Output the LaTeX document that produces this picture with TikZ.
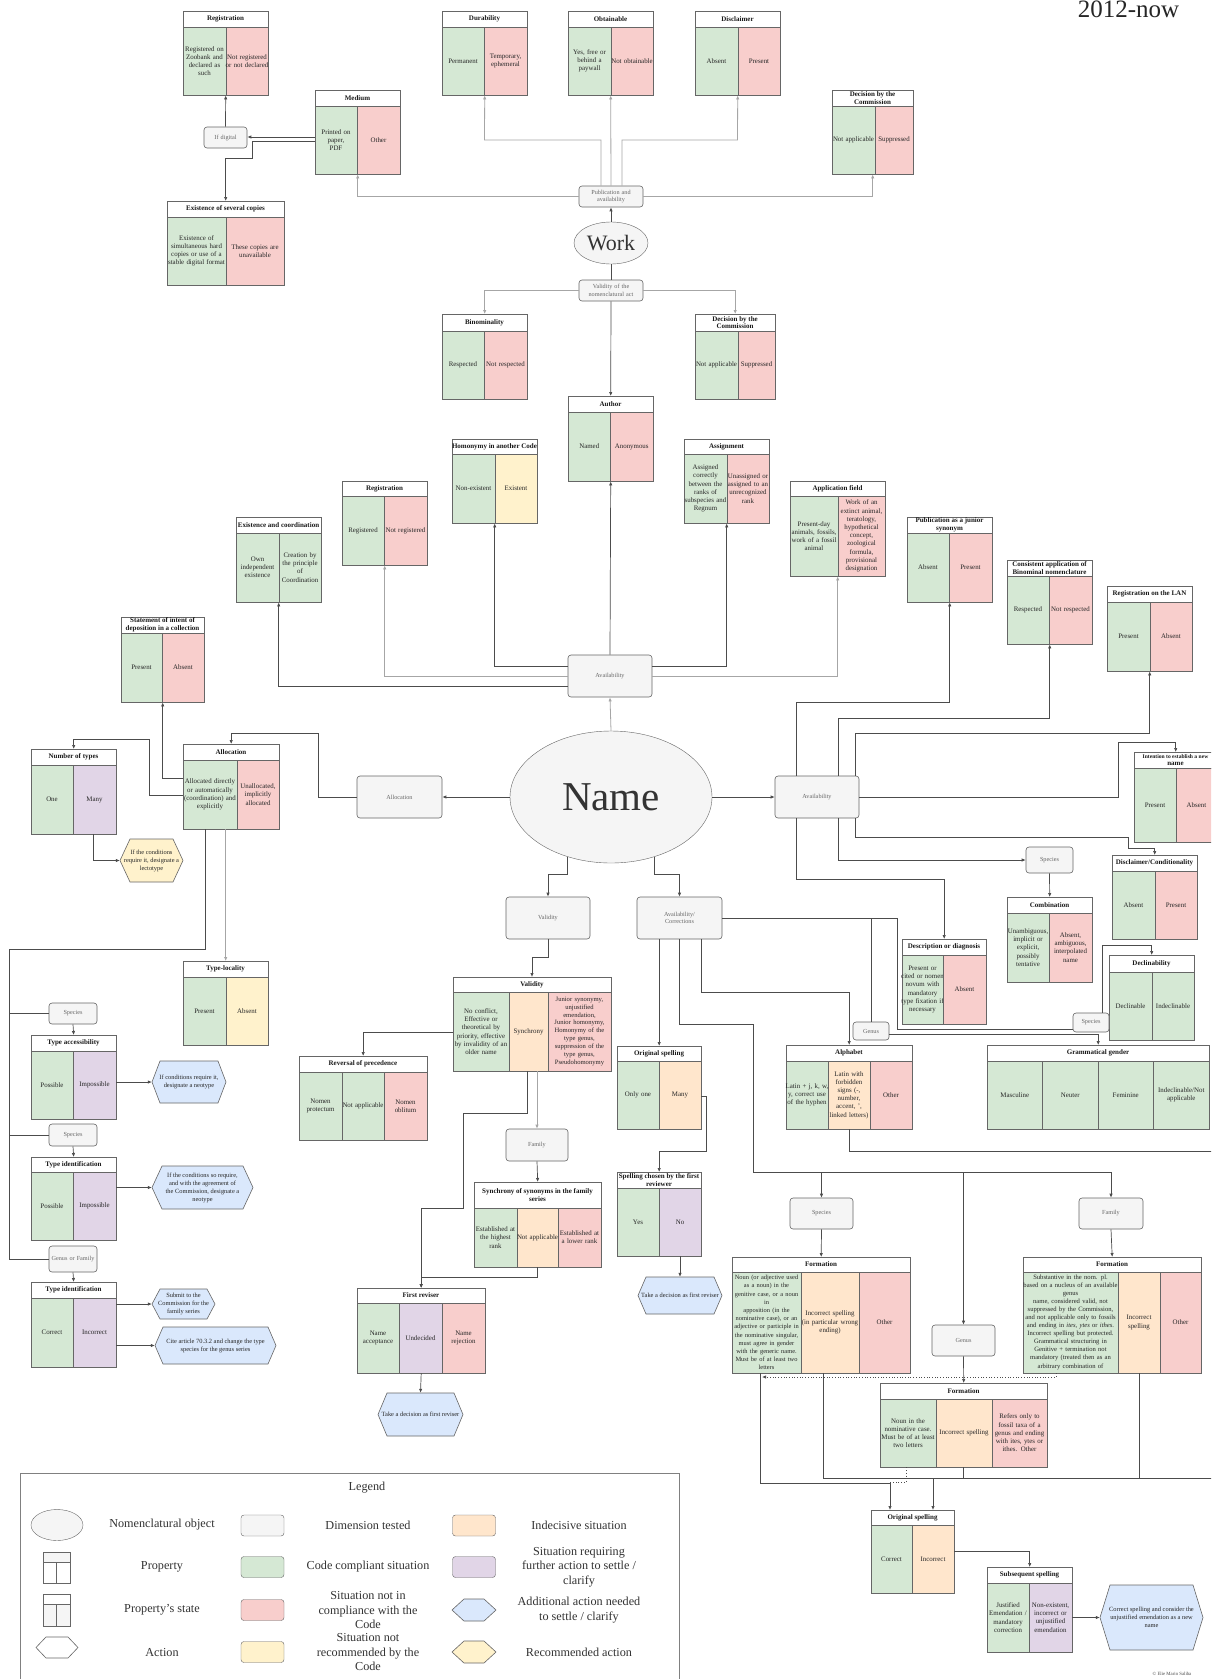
\documentclass[tikz,border=0pt]{standalone}
\usepackage{fontspec}
\setmainfont{Liberation Serif}
\usetikzlibrary{arrows.meta,shapes.geometric,calc}
\definecolor{cg}{HTML}{D5E8D4}
\definecolor{cr}{HTML}{F8CECC}
\definecolor{co}{HTML}{FFE6CC}
\definecolor{cp}{HTML}{E1D5E7}
\definecolor{cy}{HTML}{FFF2CC}
\definecolor{cb}{HTML}{DAE8FC}
\definecolor{cgr}{HTML}{F5F5F5}
\definecolor{bordc}{HTML}{666666}
\tikzset{
  hdr/.style={inner sep=0pt, align=center, font=\bfseries\fontsize{7}{7.8}\selectfont, text=black!90},
  celltx/.style={inner sep=0pt, align=center, font=\fontsize{6.9}{8.2}\selectfont, text=black!85},
  dimbox/.style={draw=bordc, fill=cgr, rounded corners=3pt, inner sep=0pt, align=center, font=\fontsize{6.2}{7.4}\selectfont, text=black!60, line width=0.6pt},
  hextx/.style={inner sep=0pt, align=center, font=\fontsize{6.4}{8}\selectfont, text=black!85},
  legtx/.style={inner sep=0pt, align=center, font=\fontsize{12.2}{14.5}\selectfont, text=black!80},
  legrect/.style={draw=black!60, rounded corners=3pt, minimum width=43pt, minimum height=21pt, inner sep=0pt},
  conn/.style={draw=black!70, line width=0.7pt},
  connl/.style={draw=black!35, line width=0.8pt},
  arr/.style={conn, -{Latex[length=4pt,width=3.4pt]}},
  arrl/.style={connl, -{Latex[length=4pt,width=3.4pt]}},
  arrd/.style={conn, dotted, -{Latex[length=4pt,width=3.4pt]}},
}
% table: name x1 y1 x2 yheader y2 title
\newcommand\ptab[7]{%
  \pgfmathsetmacro\ptW{#4-#2}\pgfmathsetmacro\ptH{#6-#3}%
  \filldraw[fill=white,draw=bordc,line width=0.6pt] (#2,#3) rectangle (#4,#5);
  \node[hdr] (#1-h) at ({(#2+#4)/2},{(#3+#5)/2}) {#7};
  \node[inner sep=0pt,minimum width=\ptW pt,minimum height=\ptH pt,anchor=north west] (#1) at (#2,#3) {};
}
% cell: name x1 x2 ytop y2 colour text
\newcommand\pcell[7]{%
  \filldraw[fill=#6,draw=bordc,line width=0.5pt] (#2,#4) rectangle (#3,#5);
  \pgfmathsetmacro\pcW{#3-#2+8}%
  \node[celltx,text width=\pcW pt] (#1) at ({(#2+#3)/2},{(#4+#5)/2}) {#7};
}
% dimension box: name x1 y1 x2 y2 text
\newcommand\dbox[6]{%
  \pgfmathsetmacro\dbW{#4-#2}\pgfmathsetmacro\dbH{#5-#3}\pgfmathsetmacro\dbT{#4-#2-2}%
  \node[dimbox,minimum width=\dbW pt,minimum height=\dbH pt,text width=\dbT pt] (#1) at ({(#2+#4)/2},{(#3+#5)/2}) {#6};
}
% hexagon: name x1 y1 x2 y2 fill text chamfer
\newcommand\hexa[8]{%
  \pgfmathsetmacro\hxW{#4-#2}\pgfmathsetmacro\hxH{#5-#3}%
  \pgfmathsetmacro\hxym{(#3+#5)/2}\pgfmathsetmacro\hxxm{(#2+#4)/2}%
  \filldraw[fill=#6,draw=bordc,line width=0.6pt] (#2,\hxym) -- ({#2+#8},#3) -- ({#4-#8},#3) -- (#4,\hxym) -- ({#4-#8},#5) -- ({#2+#8},#5) -- cycle;
  \node[inner sep=0pt,minimum width=\hxW pt,minimum height=\hxH pt] (#1) at (\hxxm,\hxym) {};
  \node[hextx] (#1-t) at (\hxxm,\hxym) {#7};
}
\begin{document}
\begin{tikzpicture}[x=1pt,y=-1pt]
\useasboundingbox (0,0) rectangle (1211,1679);
\fill[white] (0,0) rectangle (1211,1679);
\clip (0,0) rectangle (1211,1679);

\node[font=\fontsize{25}{28}\selectfont, anchor=base, inner sep=0pt, text=black!85] (era) at (1128.5,17.5) {2012-now};

% ---------------- Work part ----------------
\ptab{regT}{183}{11}{268}{27}{95}{Registration}
\pcell{regT-a}{183}{226}{27}{95}{cg}{Registered on\\Zoobank and\\declared as\\such}
\pcell{regT-b}{226}{268}{27}{95}{cr}{Not registered\\or not declared}

\ptab{durab}{442}{11}{527}{27}{95}{Durability}
\pcell{durab-a}{442}{484}{27}{95}{cg}{Permanent}
\pcell{durab-b}{484}{527}{27}{95}{cr}{Temporary,\\ephemeral}

\ptab{obtain}{568}{11}{653}{27}{95}{Obtainable}
\pcell{obtain-a}{568}{611}{27}{95}{cg}{Yes, free or\\behind a\\paywall}
\pcell{obtain-b}{611}{653}{27}{95}{cr}{Not obtainable}

\ptab{discl}{695}{11}{780}{27}{95}{Disclaimer}
\pcell{discl-a}{695}{738}{27}{95}{cg}{Absent}
\pcell{discl-b}{738}{780}{27}{95}{cr}{Present}

\ptab{medium}{315}{90}{400}{106}{174}{Medium}
\pcell{medium-a}{315}{357}{106}{174}{cg}{Printed on\\paper,\\PDF}
\pcell{medium-b}{357}{400}{106}{174}{cr}{Other}

\ptab{decT}{832}{90}{913}{106}{174}{Decision by the\\Commission}
\pcell{decT-a}{832}{875}{106}{174}{cg}{Not applicable}
\pcell{decT-b}{875}{913}{106}{174}{cr}{Suppressed}

\ptab{exist}{167}{201}{284}{217}{285}{Existence of several copies}
\pcell{exist-a}{167}{226}{217}{285}{cg}{Existence of\\simultaneous hard\\copies or use of a\\stable digital format}
\pcell{exist-b}{226}{284}{217}{285}{cr}{These copies are\\unavailable}

\dbox{ifdig}{204}{127}{247}{148}{If digital}
\dbox{pub}{579}{186}{643}{207}{Publication and\\availability}
\node[ellipse, draw=bordc, fill=cgr, minimum width=74pt, minimum height=42pt, inner sep=0pt, font=\fontsize{22}{24}\selectfont, text=black!80] (work) at (611,243) {Work};
\dbox{valact}{579}{280}{643}{301}{Validity of the\\nomenclatural act}

\ptab{binom}{442}{314}{527}{331}{399}{Binominality}
\pcell{binom-a}{442}{484}{331}{399}{cg}{Respected}
\pcell{binom-b}{484}{527}{331}{399}{cr}{Not respected}

\ptab{decM}{695}{314}{775}{331}{399}{Decision by the\\Commission}
\pcell{decM-a}{695}{738}{331}{399}{cg}{Not applicable}
\pcell{decM-b}{738}{775}{331}{399}{cr}{Suppressed}

\ptab{author}{568}{396}{653}{412}{481}{Author}
\pcell{author-a}{568}{610.5}{412}{481}{cg}{Named}
\pcell{author-b}{610.5}{653}{412}{481}{cr}{Anonymous}

% ---------------- Name availability (top) ----------------
\ptab{homon}{452}{439}{537}{454}{523}{Homonymy in another Code}
\pcell{homon-a}{452}{495}{454}{523}{cg}{Non-existent}
\pcell{homon-b}{495}{537}{454}{523}{cy}{Existent}

\ptab{assign}{684}{439}{769}{454}{523}{Assignment}
\pcell{assign-a}{684}{727}{454}{523}{cg}{Assigned\\correctly\\between the\\ranks of\\subspecies and\\Regnum}
\pcell{assign-b}{727}{769}{454}{523}{cr}{Unassigned or\\assigned to an\\unrecognized\\rank}

\ptab{regM}{342}{481}{427}{496}{565}{Registration}
\pcell{regM-a}{342}{384}{496}{565}{cg}{Registered}
\pcell{regM-b}{384}{427}{496}{565}{cr}{Not registered}

\ptab{appl}{790}{481}{885}{496}{576}{Application field}
\pcell{appl-a}{790}{838}{496}{576}{cg}{Present-day\\animals, fossils,\\work of a fossil\\animal}
\pcell{appl-b}{838}{885}{496}{576}{cr}{Work of an\\extinct animal,\\teratology,\\hypothetical\\concept,\\zoological\\formula,\\provisional\\designation}

\ptab{excoord}{236}{517}{321}{533}{602}{Existence and coordination}
\pcell{excoord-a}{236}{279}{533}{602}{cg}{Own\\independent\\existence}
\pcell{excoord-b}{279}{321}{533}{602}{cg}{Creation by\\the principle\\of\\Coordination}

\ptab{pubjun}{907}{517}{992}{533}{602}{Publication as a junior\\synonym}
\pcell{pubjun-a}{907}{949}{533}{602}{cg}{Absent}
\pcell{pubjun-b}{949}{992}{533}{602}{cr}{Present}

\ptab{consist}{1007}{560}{1092}{576}{644}{Consistent application of\\Binominal nomenclature}
\pcell{consist-a}{1007}{1049}{576}{644}{cg}{Respected}
\pcell{consist-b}{1049}{1092}{576}{644}{cr}{Not respected}

\ptab{lan}{1107}{586}{1192}{602}{671}{Registration on the LAN}
\pcell{lan-a}{1107}{1150}{602}{671}{cg}{Present}
\pcell{lan-b}{1150}{1192}{602}{671}{cr}{Absent}

\ptab{statement}{121}{617}{204}{633}{702}{Statement of intent of\\deposition in a collection}
\pcell{statement-a}{121}{162}{633}{702}{cg}{Present}
\pcell{statement-b}{162}{204}{633}{702}{cr}{Absent}

\dbox{availT}{568}{655}{652}{697}{Availability}

% ---------------- Name row ----------------
\ptab{numtypes}{31}{749}{116}{765}{834}{Number of types}
\pcell{numtypes-a}{31}{73}{765}{834}{cg}{One}
\pcell{numtypes-b}{73}{116}{765}{834}{cp}{Many}

\ptab{allocT}{183}{744}{279}{760}{829}{Allocation}
\pcell{allocT-a}{183}{237}{760}{829}{cg}{Allocated directly\\or automatically\\(coordination) and\\explicitly}
\pcell{allocT-b}{237}{279}{760}{829}{cr}{Unallocated,\\implicitly\\allocated}

\dbox{allocB}{357}{776}{442}{818}{Allocation}
\node[ellipse, draw=bordc, fill=cgr, minimum width=202pt, minimum height=132pt, inner sep=0pt, font=\fontsize{41}{44}\selectfont, text=black!80] (name) at (611,797) {Name};
\dbox{availR}{775}{776}{859}{818}{Availability}

\ptab{intent}{1134}{752}{1217}{768}{842}{\fontsize{5.6}{6.8}\selectfont Intention to establish a new\\name}
\pcell{intent-a}{1134}{1176}{768}{842}{cg}{Present}
\pcell{intent-b}{1176}{1217}{768}{842}{cr}{Absent}

\hexa{lecto}{120}{839}{183}{882}{cy}{If the conditions\\require it, designate a\\lectotype}{10}

\ptab{disclC}{1112}{855}{1197}{871}{939}{Disclaimer/Conditionality}
\pcell{disclC-a}{1112}{1155}{871}{939}{cg}{Absent}
\pcell{disclC-b}{1155}{1197}{871}{939}{cr}{Present}

\dbox{speciesT}{1026}{847}{1073}{873}{Species}

\ptab{combin}{1007}{897}{1092}{913}{982}{Combination}
\pcell{combin-a}{1007}{1049}{913}{982}{cg}{Unambiguous,\\implicit or\\explicit,\\possibly\\tentative}
\pcell{combin-b}{1049}{1092}{913}{982}{cr}{Absent,\\ambiguous,\\interpolated\\name}

\dbox{validB}{506}{897}{590}{939}{Validity}
\dbox{availC}{637}{897}{722}{939}{Availability/\\Corrections}

\ptab{descr}{902}{939}{986}{955}{1024}{Description or diagnosis}
\pcell{descr-a}{902}{943}{955}{1024}{cg}{Present or\\cited or nomen\\novum with\\mandatory\\type fixation if\\necessary}
\pcell{descr-b}{943}{986}{955}{1024}{cr}{Absent}

\ptab{typeloc}{183}{961}{268}{977}{1045}{Type-locality}
\pcell{typeloc-a}{183}{226}{977}{1045}{cg}{Present}
\pcell{typeloc-b}{226}{268}{977}{1045}{cy}{Absent}

\ptab{validT}{453}{977}{611}{992}{1071}{Validity}
\pcell{validT-a}{453}{509}{992}{1071}{cg}{No conflict,\\Effective or\\theoretical by\\priority, effective\\by invalidity of an\\older name}
\pcell{validT-b}{509}{548}{992}{1071}{co}{Synchrony}
\pcell{validT-c}{548}{611}{992}{1071}{cr}{\fontsize{6.6}{7.9}\selectfont Junior synonymy,\\unjustified\\emendation,\\Junior homonymy,\\Homonymy of the\\type genus,\\suppression of the\\type genus,\\Pseudohomonymy}

\ptab{declin}{1109}{955}{1194}{972}{1040}{Declinability}
\pcell{declin-a}{1109}{1152}{972}{1040}{cg}{Declinable}
\pcell{declin-b}{1152}{1194}{972}{1040}{cg}{Indeclinable}

\dbox{speciesA}{49}{1003}{97}{1024}{Species}
\ptab{typeacc}{31}{1035}{116}{1051}{1119}{Type accessibility}
\pcell{typeacc-a}{31}{73}{1051}{1119}{cg}{Possible}
\pcell{typeacc-b}{73}{116}{1051}{1119}{cp}{Impossible}
\hexa{neo1}{152}{1061}{226}{1103}{cb}{If conditions require it,\\designate a neotype}{8}

\dbox{genusS}{853}{1022}{889}{1040}{Genus}
\dbox{species2}{1073}{1013}{1109}{1032}{Species}

\ptab{origM}{617}{1046}{701}{1061}{1129}{Original spelling}
\pcell{origM-a}{617}{659}{1061}{1129}{cg}{Only one}
\pcell{origM-b}{659}{701}{1061}{1129}{co}{Many}

\ptab{alphab}{786}{1045}{912}{1061}{1129}{Alphabet}
\pcell{alphab-a}{786}{828}{1061}{1129}{cg}{Latin + j, k, w,\\y, correct use\\of the hyphen}
\pcell{alphab-b}{828}{870}{1061}{1129}{co}{Latin with\\forbidden\\signs (-,\\number,\\accent, ',\\linked letters)}
\pcell{alphab-c}{870}{912}{1061}{1129}{cr}{Other}

\ptab{gender}{987}{1045}{1209}{1061}{1129}{Grammatical gender}
\pcell{gender-a}{987}{1042.5}{1061}{1129}{cg}{Masculine}
\pcell{gender-b}{1042.5}{1098}{1061}{1129}{cg}{Neuter}
\pcell{gender-c}{1098}{1153.5}{1061}{1129}{cg}{Feminine}
\pcell{gender-d}{1153.5}{1209}{1061}{1129}{cg}{Indeclinable/Not\\applicable}

\ptab{reversal}{299}{1056}{427}{1072}{1140}{Reversal of precedence}
\pcell{reversal-a}{299}{342}{1072}{1140}{cg}{Nomen\\protectum}
\pcell{reversal-b}{342}{384}{1072}{1140}{cg}{Not applicable}
\pcell{reversal-c}{384}{427}{1072}{1140}{cr}{Nomen\\oblitum}

\dbox{speciesB}{49}{1124}{97}{1146}{Species}
\ptab{typeid1}{31}{1157}{116}{1172}{1240}{Type identification}
\pcell{typeid1-a}{31}{73}{1172}{1240}{cg}{Possible}
\pcell{typeid1-b}{73}{116}{1172}{1240}{cp}{Impossible}
\hexa{neo2}{152}{1166}{253}{1209}{cb}{If the conditions so require,\\and with the agreement of\\the Commission, designate a\\neotype}{10}

\dbox{familyB}{506}{1129}{568}{1161}{Family}
\ptab{synchr}{474}{1182}{601}{1208}{1267}{Synchrony of synonyms in the family\\series}
\pcell{synchr-a}{474}{517}{1208}{1267}{cg}{Established at\\the highest\\rank}
\pcell{synchr-b}{517}{558}{1208}{1267}{co}{Not applicable}
\pcell{synchr-c}{558}{601}{1208}{1267}{cr}{Established at\\a lower rank}

\ptab{spellch}{617}{1172}{701}{1188}{1256}{Spelling chosen by the first\\reviewer}
\pcell{spellch-a}{617}{659}{1188}{1256}{cg}{Yes}
\pcell{spellch-b}{659}{701}{1188}{1256}{cp}{No}

\dbox{species3}{790}{1198}{853}{1229}{Species}
\dbox{family3}{1079}{1198}{1143}{1229}{Family}
\dbox{genusorfam}{49}{1246}{97}{1272}{Genus or Family}

\ptab{typeid2}{31}{1282}{116}{1298}{1367}{Type identification}
\pcell{typeid2-a}{31}{73}{1298}{1367}{cg}{Correct}
\pcell{typeid2-b}{73}{116}{1298}{1367}{cp}{Incorrect}
\hexa{submit}{152}{1289}{215}{1319}{cb}{Submit to the\\Commission for the\\family series}{8}
\hexa{cite}{155}{1327}{276}{1364}{cb}{Cite article 70.3.2 and change the type\\species for the genus series}{8}

\ptab{firstrev}{357}{1288}{485}{1303}{1373}{First reviser}
\pcell{firstrev-a}{357}{399}{1303}{1373}{cg}{Name\\acceptance}
\pcell{firstrev-b}{399}{442}{1303}{1373}{cp}{Undecided}
\pcell{firstrev-c}{442}{485}{1303}{1373}{cr}{Name\\rejection}
\hexa{dec1}{378}{1393}{463}{1436}{cb}{Take a decision as first reviser}{9}
\hexa{dec2}{638}{1277}{722}{1314}{cb}{Take a decision as first reviser}{8}

\ptab{formS}{732}{1257}{910}{1272}{1373}{Formation}
\pcell{formS-a}{732}{801}{1272}{1373}{cg}{\fontsize{6.4}{8.2}\selectfont Noun (or adjective used\\as a noun) in the\\genitive case, or a noun\\in\\apposition (in the\\nominative case), or an\\adjective or participle in\\the nominative singular,\\must agree in gender\\with the generic name.\\Must be of at least two\\letters}
\pcell{formS-b}{801}{859}{1272}{1373}{co}{Incorrect spelling\\(in particular wrong\\ending)}
\pcell{formS-c}{859}{910}{1272}{1373}{cr}{Other}

\ptab{formF}{1023}{1257}{1201}{1272}{1373}{Formation}
\pcell{formF-a}{1023}{1118}{1272}{1373}{cg}{\fontsize{6.6}{8}\selectfont Substantive in the nom. pl.\\based on a nucleus of an available\\genus\\name, considered valid, not\\suppressed by the Commission,\\and not applicable only to fossils\\and ending in \textit{ites, ytes} or \textit{ithes}.\\Incorrect spelling but protected.\\Grammatical structuring in\\Genitive + termination not\\mandatory (treated then as an\\arbitrary combination of}
\pcell{formF-b}{1118}{1160}{1272}{1373}{co}{Incorrect\\spelling}
\pcell{formF-c}{1160}{1201}{1272}{1373}{cr}{Other}

\dbox{genus3}{932}{1325}{995}{1356}{Genus}

\ptab{formG}{880}{1383}{1047}{1399}{1467}{Formation}
\pcell{formG-a}{880}{936}{1399}{1467}{cg}{Noun in the\\nominative case.\\Must be of at least\\two letters}
\pcell{formG-b}{936}{992}{1399}{1467}{co}{Incorrect spelling}
\pcell{formG-c}{992}{1047}{1399}{1467}{cr}{Refers only to\\fossil taxa of a\\genus and ending\\with ites, ytes or\\ithes. Other}

\ptab{origB}{871}{1510}{954}{1525}{1593}{Original spelling}
\pcell{origB-a}{871}{912}{1525}{1593}{cg}{Correct}
\pcell{origB-b}{912}{954}{1525}{1593}{co}{Incorrect}

\ptab{subseq}{987}{1567}{1072}{1583}{1652}{Subsequent spelling}
\pcell{subseq-a}{987}{1029}{1583}{1652}{cg}{Justified\\Emendation /\\mandatory\\correction}
\pcell{subseq-b}{1029}{1072}{1583}{1652}{cp}{Non-existent,\\incorrect or\\unjustified\\emendation}
\hexa{corr}{1100}{1585}{1203}{1650}{cb}{Correct spelling and consider the\\unjustified emendation as a new\\name}{10}

\node[font=\fontsize{4.8}{5.5}\selectfont, text=black!70, inner sep=0pt] (copy) at (1172,1674) {© Elie Mario Saliba};

% ---------------- connectors: Work ----------------
\draw[arr] (ifdig.north) -- (regT.south);
\draw[arr] (medium.west |- 0,137) -- (ifdig.east |- 0,137);
\draw[arr] (medium.west |- 0,141) -| (252,158) -| (exist.north);
\draw[arrl] (pub.west |- 0,196) -| (medium.south);
\draw[arrl] (pub.east |- 0,196) -| (decT.south);
\draw[arrl] (pub.north -| 601,0) |- (484.5,140) -- (durab.south);
\draw[arrl] (pub.north) -- (obtain.south);
\draw[arrl] (pub.north -| 622,0) |- (737.5,140) -- (discl.south);
\draw[arr] (work.north) -- (pub.south);
\draw[conn] (work.south) -- (valact.north);
\draw[arrl] (valact.west) -| (binom.north);
\draw[arrl] (valact.east) -| (decM.north);
\draw[arr] (valact.south) -- (author.north);

% ---------------- connectors: Name ----------------
\draw[arr] (availT.north) -- (author.south);
\draw[arr] (availT.west |- 0,666) -| (homon.south);
\draw[arr] (availT.east |- 0,666) -| (assign.south);
\draw[arrl] (availT.west |- 0,676) -| (regM.south);
\draw[arr] (availT.west |- 0,686) -| (excoord.south);
\draw[arrl] (availT.east |- 0,676) -| (appl.south);
\draw[arrl] (name.north) -- (availT.south);
\draw[arr] (name.west) -- (allocB.east);
\draw[arr] (name.east) -- (availR.west);

\draw[arr] (allocB.west) -| (318,733) -| (allocT.north);
\draw[arr] (allocT.west |- 0,778) -| (statement.south);
\draw[arr] (allocT.west |- 0,795) -| (149,739) -| (numtypes.north);
\draw[arr] (numtypes.south -| 93,0) |- (lecto.west);
\draw[conn] (allocT.south -| 205,0) |- (9,949) |- (genusorfam.west);
\draw[conn] (speciesA.west -| 9,0) -- (speciesA.west);
\draw[conn] (speciesB.west -| 9,0) -- (speciesB.west);
\draw[arrl] (allocT.south -| typeloc.north) -- (typeloc.north);
\draw[arr] (speciesA.south) -- (typeacc.north);
\draw[arr] (typeacc.east |- neo1.west) -- (neo1.west);
\draw[arr] (speciesB.south) -- (typeid1.north);
\draw[arr] (typeid1.east |- neo2.west) -- (neo2.west);
\draw[arr] (genusorfam.south) -- (typeid2.north);
\draw[arr] (typeid2.east |- submit.west) -- (submit.west);
\draw[arr] (typeid2.east |- cite.west) -- (cite.west);

\draw[arr] (name.234) |- (validB.north |- 0,874) -- (validB.north);
\draw[arr] (name.306) |- (availC.north |- 0,874) -- (availC.north);
\draw[arr] (validB.south) |- (532,957) -- (validT.north -| 532,0);
\draw[arr] (validT.west |- 0,1032) -| (reversal.north);
\draw[arr] (validT.south -| 527,0) |- (463,1113) |- (firstrev.north |- 0,1208) -- (firstrev.north);
\draw[arrl] (validT.south -| familyB.north) -- (familyB.north);
\draw[arr] (familyB.south) -- (synchr.north);
\draw[arr] (synchr.south) |- (firstrev.north |- 0,1277) -- (firstrev.north);
\draw[arr] (firstrev.south) -- (dec1.north);

\draw[arr] (availC.south -| origM.north) -- (origM.north);
\draw[arr] (origM.east |- 0,1096) -| (706,1151) -| (spellch.north);
\draw[arr] (spellch.south -| dec2.north) -- (dec2.north);
\draw[conn] (availC.south) |- (753,1024) -- (753,1172);
\coordinate (jn1) at (753,1172);
\draw[arr] (jn1) -| (species3.north);
\draw[arr] (jn1) -| (genus3.north);
\draw[arr] (jn1) -| (family3.north);
\draw[arr] (availC.south -| 701,0) |- (alphab.north |- 0,992) -- (alphab.north);
\draw[conn] (availC.east) -| (897,1029) -- (species2.west |- 0,1029);
\draw[conn] (genusS.north |- availC.east) -- (genusS.north);
\draw[arr] (genusS.east |- 0,1034) -| (gender.north);
\draw[arr] (species2.north -| 1102,0) |- (declin.north |- 0,945) -- (declin.north);

\draw[arr] (availR.south -| 838,0) |- (speciesT.west);
\draw[arr] (speciesT.south) -- (combin.north);
\draw[arr] (availR.south -| 796,0) |- (descr.north |- 0,879) -- (descr.north);
\draw[arr] (availR.north -| 796,0) |- (pubjun.south |- 0,702) -- (pubjun.south);
\draw[arr] (availR.north -| 838,0) |- (consist.south |- 0,718) -- (consist.south);
\draw[arr] (availR.north -| 855,0) |- (lan.south |- 0,733) -- (lan.south);
\draw[arr] (availR.east) -| (1118,742) -| (intent.north);
\draw[arr] (availR.south -| 855,0) |- (1128,837) |- (disclC.north |- 0,848) -- (disclC.north);

\coordinate (offA) at (1215,1151);
\draw[conn] (alphab.south) |- (offA);
\draw[arr] (species3.south) -- (formS.north);
\draw[arr] (family3.south) -- (formF.north);
\draw[arr] (genus3.south) -- (formG.north);
\coordinate (jd) at (762,1377);
\draw[arrd] (formF.south -| 1056,0) |- (jd);
\draw[arr] (formS.south -| 760,0) |- (890,1483) -- (origB.north -| 890,0);
\coordinate (offB) at (1215,1478);
\draw[conn] (formS.south -| 823,0) |- (offB);
\draw[conn] (formG.south) -- (formG.south |- offB);
\draw[conn] (formF.south -| 1139,0) -- (1139,1478);
\coordinate (j4) at (933,1478);
\draw[arr] (j4) -- (origB.north -| j4);
\draw[conn, dotted] (formG.south -| 906,0) |- (890,1482);
\draw[arr] (origB.east |- 0,1551) -| (subseq.north);
\draw[arr] (subseq.east |- corr.west) -- (corr.west);

% ---------------- Legend ----------------
\draw[draw=black!50, line width=0.7pt] (20,1473) rectangle (679,1695);
\node[legtx] (lgtitle) at (367,1488) {Legend};
\node[ellipse, draw=bordc, fill=cgr, minimum width=52pt, minimum height=31pt, inner sep=0pt] (lgell) at (57,1525) {};
\node[legtx] (lgt1) at (162,1525) {Nomenclatural object};
\node[legrect, fill=cgr] (lgr1) at (262.5,1525.5) {};
\node[legtx] (lgt2) at (368,1525) {Dimension tested};
\node[legrect, fill=co] (lgr2) at (474,1525.5) {};
\node[legtx] (lgt3) at (579,1525) {Indecisive situation};

\filldraw[draw=black!60, fill=cgr] (43,1552) rectangle (70,1562);
\filldraw[draw=black!60, fill=white] (43,1562) rectangle (70,1583);
\draw[black!60] (56.5,1562) -- (56.5,1583);
\node[legtx] (lgt4) at (162,1567) {Property};
\node[legrect, fill=cg] (lgr3) at (262.5,1567) {};
\node[legtx] (lgt5) at (368,1567) {Code compliant situation};
\node[legrect, fill=cp] (lgr4) at (474,1567) {};
\node[legtx] (lgt6) at (579,1567) {Situation requiring\\further action to settle /\\clarify};

\filldraw[draw=black!60, fill=white] (43,1594) rectangle (70,1604);
\filldraw[draw=black!60, fill=cgr] (43,1604) rectangle (70,1626);
\draw[black!60] (56.5,1604) -- (56.5,1626);
\node[legtx] (lgt7) at (162,1610) {Property's state};
\node[legrect, fill=cr] (lgr5) at (262.5,1610) {};
\node[legtx] (lgt8) at (368,1610) {Situation not in\\compliance with the\\Code};
\hexa{lgh1}{452}{1599}{496}{1621}{cb}{}{12}
\node[legtx] (lgt9) at (579,1610) {Additional action needed\\to settle / clarify};

\hexa{lgh2}{36}{1637}{78}{1658}{white}{}{10}
\node[legtx] (lgt10) at (162,1652) {Action};
\node[legrect, fill=cy] (lgr6) at (262.5,1652) {};
\node[legtx] (lgt11) at (368,1652) {Situation not\\recommended by the\\Code};
\hexa{lgh3}{452}{1641}{496}{1663}{cy}{}{12}
\node[legtx] (lgt12) at (579,1652) {Recommended action};
\end{tikzpicture}
\end{document}
